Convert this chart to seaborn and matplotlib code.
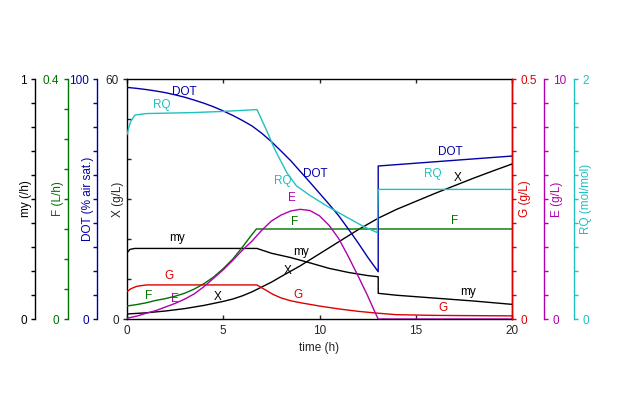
import numpy as np
import matplotlib
matplotlib.use("Agg")
import matplotlib.pyplot as plt
import seaborn as sns
from matplotlib.ticker import FixedLocator, MultipleLocator, FuncFormatter

# --- data (time in h) ---
t_X = [0, 1, 2, 3, 4, 5, 5.5, 6, 6.5, 7, 7.5, 8, 9, 10, 11, 12, 13.05, 14, 15, 16, 17, 18, 19, 20]
X = [1.25, 1.55, 2.0, 2.6, 3.4, 4.4, 5.0, 5.8, 6.8, 8.0, 9.2, 10.6, 13.3, 16.3, 19.3, 22.3, 25.2,
     27.4, 29.4, 31.4, 33.3, 35.2, 37.0, 38.75]

t_my = [0, 0.15, 0.4, 6.75, 7.5, 8.5, 9.5, 10.5, 11.5, 12.5, 13.05, 13.05, 14, 15, 16, 17, 18, 19, 20]
my = [0.276, 0.29, 0.294, 0.294, 0.274, 0.256, 0.234, 0.211, 0.194, 0.181, 0.176, 0.107,
      0.099, 0.093, 0.087, 0.081, 0.075, 0.068, 0.061]

t_F = [0, 0.5, 1, 1.5, 2, 2.5, 3, 3.5, 4, 4.5, 5, 5.5, 6, 6.4, 6.72, 20]
F = [0.0217, 0.024, 0.027, 0.031, 0.034, 0.038, 0.043, 0.05, 0.059, 0.07, 0.084, 0.1, 0.12,
     0.137, 0.15, 0.15]

t_DOT = [0, 0.5, 1, 1.5, 2, 2.5, 3, 3.5, 4, 4.5, 5, 5.5, 6, 6.5, 7, 7.5, 8, 8.5, 9, 9.5,
         10, 10.5, 11, 11.5, 12, 12.5, 13.05, 13.05, 20]
DOT = [96.5, 96.1, 95.6, 95.0, 94.3, 93.4, 92.4, 91.2, 89.9, 88.4, 86.7, 84.8, 82.7, 80.4,
       77.4, 73.9, 70.0, 66.0, 61.5, 57.0, 52.4, 47.8, 43.0, 37.5, 31.8, 25.8, 19.7, 63.75, 67.9]

t_G = [0, 0.2, 0.5, 1.0, 6.75, 7.0, 7.3, 7.6, 8.0, 8.5, 9.0, 10.0, 11.0, 12.0, 13.05, 14, 16, 18, 20]
G = [0.057, 0.063, 0.068, 0.071, 0.071, 0.065, 0.058, 0.051, 0.044, 0.038, 0.034, 0.027, 0.021,
     0.016, 0.012, 0.009, 0.0075, 0.007, 0.0065]

t_E = [0, 0.5, 1, 1.5, 2, 2.5, 3, 3.5, 4, 4.5, 5, 5.5, 6, 6.5, 7, 7.5, 8, 8.5, 9, 9.5,
       10, 10.5, 11, 11.5, 12, 12.5, 12.9, 13.05, 20]
E = [0.03, 0.12, 0.24, 0.35, 0.5, 0.65, 0.83, 1.05, 1.35, 1.7, 2.05, 2.45, 2.87, 3.25, 3.7,
     4.08, 4.33, 4.5, 4.57, 4.52, 4.3, 3.9, 3.35, 2.6, 1.8, 0.97, 0.25, 0.0, 0.0]

t_RQ = [0, 0.1, 0.2, 0.42, 1, 3.4, 5, 6.75, 7.0, 7.35, 7.6, 7.86, 8.3, 8.8, 9.5, 10.4, 11.4,
        12.3, 13.0, 13.05, 20]
RQ = [1.536, 1.60, 1.65, 1.70, 1.712, 1.72, 1.73, 1.745, 1.66, 1.536, 1.44, 1.356, 1.22, 1.11,
      1.03, 0.94, 0.85, 0.77, 0.72, 1.08, 1.08]

# curve labels, in main-axis (time, X) coordinates
labels_DOT = [(3.0, 56.75), (9.8, 36.25), (16.8, 41.75)]
labels_RQ = [(1.8, 53.5), (8.1, 34.5), (15.9, 36.25)]
labels_my = [(2.6, 20.25), (9.05, 16.75), (17.7, 6.75)]
labels_X = [(4.7, 5.5), (8.35, 12.0), (17.2, 35.25)]
labels_G = [(2.2, 10.75), (8.9, 6.0), (16.4, 2.75)]
labels_E = [(2.5, 5.0), (8.55, 30.25)]
labels_F = [(1.1, 5.75), (8.7, 24.25), (17.0, 24.5)]

C_BLACK = "#000000"
C_GREEN = "#007000"
C_BLUE = "#0000a8"
C_RED = "#dd0000"
C_MAG = "#b000b0"
C_CYAN = "#20c0c0"

sns.set_style("ticks")
plt.rcParams["font.family"] = ["Liberation Sans", "DejaVu Sans"]
plt.rcParams["font.size"] = 8.5

fig = plt.figure(figsize=(6.4, 3.99), dpi=100)
ax = fig.add_axes([127 / 640, 1 - 319 / 399, 385 / 640, 240 / 399])

fmt = FuncFormatter(lambda v, p: f"{v:g}")


def setup_axis(a, top, step, color, label, side, pos, label_x):
    a.set_ylim(0, top)
    a.yaxis.set_major_locator(FixedLocator([0, top]))
    a.yaxis.set_minor_locator(MultipleLocator(step))
    a.yaxis.set_major_formatter(fmt)
    a.yaxis.set_ticks_position(side)
    a.yaxis.set_label_position(side)
    for s in ["left", "right", "top", "bottom"]:
        a.spines[s].set_visible(s == side)
    a.spines[side].set_position(("axes", pos))
    a.spines[side].set_color(color)
    a.spines[side].set_linewidth(1.0)
    a.tick_params(axis="y", which="both", direction="out", colors=color, labelcolor=color,
                  width=1.0, length=3, pad=3)
    a.set_ylabel(label, color=color)
    a.yaxis.set_label_coords(label_x, 0.5)


# main axis: biomass X
sns.lineplot(x=t_X, y=X, ax=ax, color=C_BLACK, lw=1.0, estimator=None, sort=False)
ax.set_xlim(0, 20)
ax.set_ylim(0, 60)
ax.xaxis.set_major_locator(MultipleLocator(5))
ax.tick_params(axis="x", direction="in", top=True, bottom=True, length=3, width=1.0, pad=4)
ax.yaxis.set_major_locator(FixedLocator([0, 60]))
ax.yaxis.set_minor_locator(MultipleLocator(10))
ax.yaxis.set_major_formatter(fmt)
ax.tick_params(axis="y", which="major", direction="out", length=3, width=1.0, pad=3)
ax.tick_params(axis="y", which="minor", direction="in", length=3, width=1.0)
for s in ax.spines.values():
    s.set_linewidth(1.0)
    s.set_color(C_BLACK)
ax.set_xlabel("time (h)")
ax.set_ylabel("X (g/L)")
ax.yaxis.set_label_coords(-0.0086, 0.5)

series = [
    (t_my, my, 1, 0.1, C_BLACK, "my (/h)", "left", -0.239, -0.2475),
    (t_F, F, 0.4, 0.05, C_GREEN, "F (L/h)", "left", -0.1545, -0.1644),
    (t_DOT, DOT, 100, 10, C_BLUE, "DOT (% air sat.)", "left", -0.0779, -0.0865),
    (t_G, G, 0.5, 0.05, C_RED, "G (g/L)", "right", 1.0, 1.018),
    (t_E, E, 10, 1, C_MAG, "E (g/L)", "right", 1.0844, 1.1008),
    (t_RQ, RQ, 2, 0.2, C_CYAN, "RQ (mol/mol)", "right", 1.161, 1.1766),
]
for tt, vals, top, step, col, lab, side, pos, lx in series:
    tw = ax.twinx()
    sns.lineplot(x=tt, y=vals, ax=tw, color=col, lw=1.0, estimator=None, sort=False)
    tw.set_xlim(0, 20)
    setup_axis(tw, top, step, col, lab, side, pos, lx)

# curve labels
for name, pts, col in [("DOT", labels_DOT, C_BLUE), ("RQ", labels_RQ, C_CYAN),
                       ("my", labels_my, C_BLACK), ("X", labels_X, C_BLACK),
                       ("G", labels_G, C_RED), ("E", labels_E, C_MAG),
                       ("F", labels_F, C_GREEN)]:
    for tx, ty in pts:
        ax.text(tx, ty, name, color=col, ha="center", va="center", fontsize=8.5, zorder=10)

fig.savefig("out.png", dpi=100, facecolor="white")
